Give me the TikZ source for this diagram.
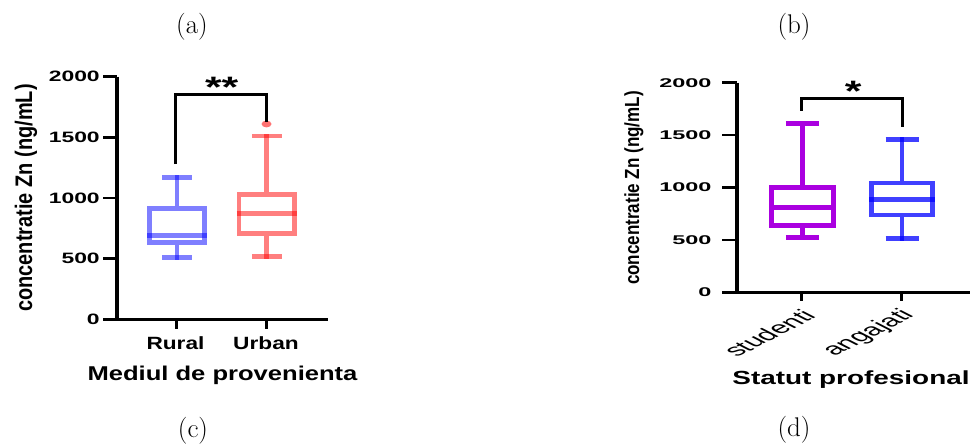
\documentclass[tikz,border=0pt]{standalone}
\usepackage{graphicx}
\usepackage{fontspec}
\setsansfont{Liberation Sans}
\definecolor{studcol}{RGB}{170,0,224}
\newcommand\widen[2]{\scalebox{#1}[1]{#2}}
\def\whiskerbox[#1](#2:#3:#4)(#5:#6:#7:#8:#9)% [style] (x centre:half width:cap half width) (low:q1:median:q3:high), px
{ \draw[#1] (#2-#3,#6) rectangle (#2+#3,#8);
  \draw[#1] (#2-#3-2.3,#7) -- (#2+#3+2.3,#7);
  \draw[#1] (#2,#6+2.3) -- (#2,#5+2.3);
  \draw[#1] (#2,#8-2.3) -- (#2,#9-2.3);
  \draw[#1] (#2-#4,#5) -- (#2+#4,#5);
  \draw[#1] (#2-#4,#9) -- (#2+#4,#9); }

\begin{document}
\begin{tikzpicture}[x=0.025cm,y=-0.025cm,line join=miter,
	axisline/.style={line width=2.3pt},
	tickline/.style={line width=1.9pt},
	sigline/.style={line width=1.9pt},
	rural/.style={line width=3.3pt,draw=blue,draw opacity=.5},
	urban/.style={line width=3.3pt,draw=red,draw opacity=.5},
	stud/.style={line width=3.3pt,draw=studcol},
	anga/.style={line width=3.3pt,draw=blue,draw opacity=.75},
	ticklaba/.style={inner sep=0pt,anchor=east,font=\sffamily\bfseries\fontsize{10.7}{12}\selectfont},
	ticklabb/.style={inner sep=0pt,anchor=east,font=\sffamily\bfseries\fontsize{9}{10}\selectfont},
	ytitle/.style={inner sep=0pt,rotate=90,font=\sffamily\bfseries},
	catlab/.style={inner sep=0pt,anchor=base,font=\sffamily\bfseries\fontsize{12.6}{14}\selectfont},
	catrot/.style={inner sep=0pt,anchor=east,rotate=45,transform shape,font=\sffamily\fontsize{11.8}{13}\selectfont},
	stars/.style={inner sep=0pt,anchor=base,font=\sffamily\bfseries\fontsize{21}{21}\selectfont},
	panel/.style={inner sep=0pt,font=\fontsize{19.2}{20}\selectfont}]
	\useasboundingbox (0,0) rectangle (976,447);

	%PANEL LABELS
	\node[panel] (pa) at (192,26.5) {(a)};
	\node[panel] (pb) at (794,26.5) {(b)};
	\node[panel] (pc) at (193,431) {(c)};
	\node[panel] (pd) at (794,430) {(d)};

	%LEFT PLOT: Mediul de provenienta
	\draw[axisline] (117,76.7)--(117,319.3)--(328,319.3);
	\foreach \v/\y in {0/319.3,500/258.7,1000/198,1500/137.4,2000/76.7}{
		\draw[tickline] (103,\y)--(117,\y);
		\node[ticklaba] (ya\v) at (100,\y) {\widen{1.52}{\v}};
	}
	\draw[tickline] (176.5,319.3)--(176.5,329);
	\draw[tickline] (266.5,319.3)--(266.5,329);
	\node[catlab] (rural) at (175.5,349.3) {\widen{1.28}{Rural}};
	\node[catlab] (urban) at (266,349.3) {\widen{1.28}{Urban}};
	\node[catlab,font=\sffamily\bfseries\fontsize{14.2}{16}\selectfont] (xta) at (222.5,380) {\widen{1.28}{Mediul de provenienta}};
	\node[ytitle,font=\sffamily\bfseries\fontsize{14.2}{16}\selectfont] (yta) at (26,198) {\scalebox{1}[1.2]{concentratie Zn (ng/mL)}};
	%
	\whiskerbox[rural](177:27.5:15)(257.3:242.5:235.7:208.7:177.7)
	\whiskerbox[urban](266.8:27.9:15)(256.7:233.3:213.8:194.5:136)
	\fill[red,fill opacity=.55] (266.5,124) ellipse (5 and 3.4);
	%
	\coordinate (sigLa) at (175.7,164);
	\coordinate (sigRa) at (266.7,121.7);
	\draw[sigline] (sigLa)--++(0,-69.7)-|(sigRa);
	\node[stars] (sa) at (221.7,97.5) {\widen{1.45}{**}};

	%RIGHT PLOT: Statut profesional
	\draw[axisline] (737,82.7)--(737,292.3)--(970,292.3);
	\foreach \v/\y in {0/292.3,500/239.9,1000/187.5,1500/135.1,2000/82.7}{
		\draw[tickline] (722,\y)--(737,\y);
		\node[ticklabb] (yb\v) at (711.7,\y) {\widen{1.85}{\v}};
	}
	\draw[tickline] (801.7,292.3)--(801.7,300.5);
	\draw[tickline] (901.7,292.3)--(901.7,300.5);
	\foreach \x/\name/\lab in {801.7/studenti/studenti,901.7/angajati/angajati}{
		\begin{scope}[shift={(\x,300)},xscale=1.95]
			\node[catrot] (\name) at (3.85,12.5) {\lab};
		\end{scope}
	}
	\node[catlab,font=\sffamily\bfseries\fontsize{13.5}{15}\selectfont] (xtb) at (851,384) {\widen{1.47}{Statut profesional}};
	\node[ytitle,font=\sffamily\bfseries\fontsize{12.1}{14}\selectfont] (ytb) at (634,188) {\scalebox{1}[1.2]{concentratie Zn (ng/mL)}};
	%
	\whiskerbox[stud](802.4:30.8:16.5)(237.7:225.3:207.2:187.3:123.3)
	\whiskerbox[anga](902.1:30.4:16.5)(238.3:215:199.3:183:139.7)
	%
	\coordinate (sigLb) at (801.7,110.7);
	\coordinate (sigRb) at (902.3,126.7);
	\draw[sigline] (sigLb)--++(0,-12.4)-|(sigRb);
	\node[stars] (sb) at (853.3,101.5) {\widen{1.45}{*}};
\end{tikzpicture}
\end{document}
